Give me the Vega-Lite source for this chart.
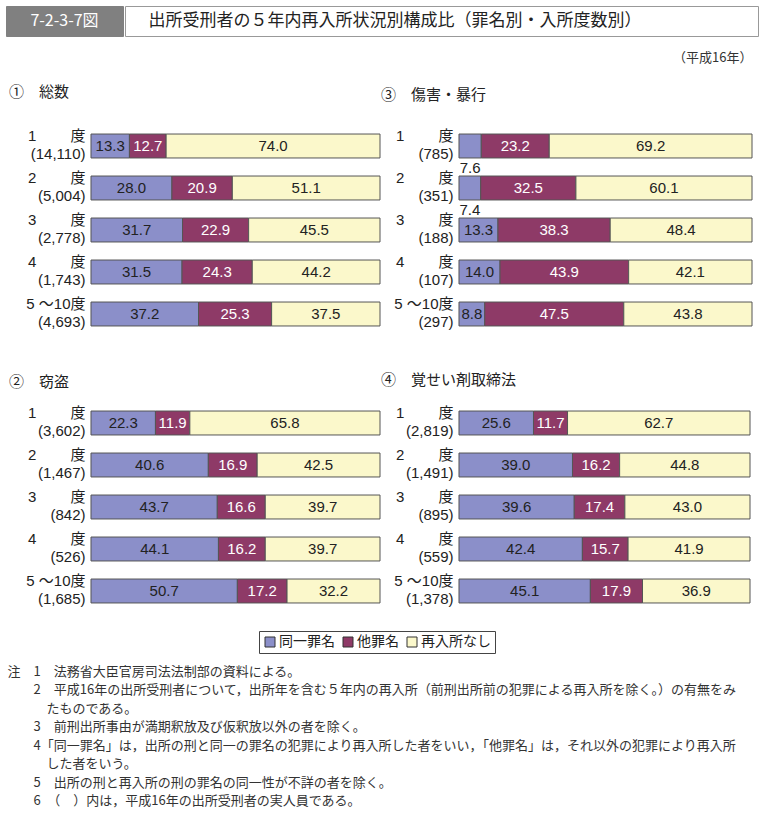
{
  "$schema": "https://vega.github.io/schema/vega-lite/v6.json",
  "padding": {"left": 5, "top": 5, "right": 4, "bottom": 0},
  "background": "white",
  "datasets": {
    "hdr1": [{"t": "7-2-3-7図"}],
    "hdr2": [{"t": "出所受刑者の５年内再入所状況別構成比（罪名別・入所度数別）"}],
    "rec": [
      {"panel": "総数", "row": "1　　 度|(14,110)", "category": "同一罪名", "value": 13.3},
      {"panel": "総数", "row": "1　　 度|(14,110)", "category": "他罪名", "value": 12.7},
      {"panel": "総数", "row": "1　　 度|(14,110)", "category": "再入所なし", "value": 74.0},
      {"panel": "総数", "row": "2　　 度|(5,004)", "category": "同一罪名", "value": 28.0},
      {"panel": "総数", "row": "2　　 度|(5,004)", "category": "他罪名", "value": 20.9},
      {"panel": "総数", "row": "2　　 度|(5,004)", "category": "再入所なし", "value": 51.1},
      {"panel": "総数", "row": "3　　 度|(2,778)", "category": "同一罪名", "value": 31.7},
      {"panel": "総数", "row": "3　　 度|(2,778)", "category": "他罪名", "value": 22.9},
      {"panel": "総数", "row": "3　　 度|(2,778)", "category": "再入所なし", "value": 45.5},
      {"panel": "総数", "row": "4　　 度|(1,743)", "category": "同一罪名", "value": 31.5},
      {"panel": "総数", "row": "4　　 度|(1,743)", "category": "他罪名", "value": 24.3},
      {"panel": "総数", "row": "4　　 度|(1,743)", "category": "再入所なし", "value": 44.2},
      {"panel": "総数", "row": "5 ～10度|(4,693)", "category": "同一罪名", "value": 37.2},
      {"panel": "総数", "row": "5 ～10度|(4,693)", "category": "他罪名", "value": 25.3},
      {"panel": "総数", "row": "5 ～10度|(4,693)", "category": "再入所なし", "value": 37.5},

      {"panel": "窃盗", "row": "1　　 度|(3,602)", "category": "同一罪名", "value": 22.3},
      {"panel": "窃盗", "row": "1　　 度|(3,602)", "category": "他罪名", "value": 11.9},
      {"panel": "窃盗", "row": "1　　 度|(3,602)", "category": "再入所なし", "value": 65.8},
      {"panel": "窃盗", "row": "2　　 度|(1,467)", "category": "同一罪名", "value": 40.6},
      {"panel": "窃盗", "row": "2　　 度|(1,467)", "category": "他罪名", "value": 16.9},
      {"panel": "窃盗", "row": "2　　 度|(1,467)", "category": "再入所なし", "value": 42.5},
      {"panel": "窃盗", "row": "3　　 度|(842)", "category": "同一罪名", "value": 43.7},
      {"panel": "窃盗", "row": "3　　 度|(842)", "category": "他罪名", "value": 16.6},
      {"panel": "窃盗", "row": "3　　 度|(842)", "category": "再入所なし", "value": 39.7},
      {"panel": "窃盗", "row": "4　　 度|(526)", "category": "同一罪名", "value": 44.1},
      {"panel": "窃盗", "row": "4　　 度|(526)", "category": "他罪名", "value": 16.2},
      {"panel": "窃盗", "row": "4　　 度|(526)", "category": "再入所なし", "value": 39.7},
      {"panel": "窃盗", "row": "5 ～10度|(1,685)", "category": "同一罪名", "value": 50.7},
      {"panel": "窃盗", "row": "5 ～10度|(1,685)", "category": "他罪名", "value": 17.2},
      {"panel": "窃盗", "row": "5 ～10度|(1,685)", "category": "再入所なし", "value": 32.2},

      {"panel": "傷害・暴行", "row": "1　　 度|(785)", "category": "同一罪名", "value": 7.6},
      {"panel": "傷害・暴行", "row": "1　　 度|(785)", "category": "他罪名", "value": 23.2},
      {"panel": "傷害・暴行", "row": "1　　 度|(785)", "category": "再入所なし", "value": 69.2},
      {"panel": "傷害・暴行", "row": "2　　 度|(351)", "category": "同一罪名", "value": 7.4},
      {"panel": "傷害・暴行", "row": "2　　 度|(351)", "category": "他罪名", "value": 32.5},
      {"panel": "傷害・暴行", "row": "2　　 度|(351)", "category": "再入所なし", "value": 60.1},
      {"panel": "傷害・暴行", "row": "3　　 度|(188)", "category": "同一罪名", "value": 13.3},
      {"panel": "傷害・暴行", "row": "3　　 度|(188)", "category": "他罪名", "value": 38.3},
      {"panel": "傷害・暴行", "row": "3　　 度|(188)", "category": "再入所なし", "value": 48.4},
      {"panel": "傷害・暴行", "row": "4　　 度|(107)", "category": "同一罪名", "value": 14.0},
      {"panel": "傷害・暴行", "row": "4　　 度|(107)", "category": "他罪名", "value": 43.9},
      {"panel": "傷害・暴行", "row": "4　　 度|(107)", "category": "再入所なし", "value": 42.1},
      {"panel": "傷害・暴行", "row": "5 ～10度|(297)", "category": "同一罪名", "value": 8.8},
      {"panel": "傷害・暴行", "row": "5 ～10度|(297)", "category": "他罪名", "value": 47.5},
      {"panel": "傷害・暴行", "row": "5 ～10度|(297)", "category": "再入所なし", "value": 43.8},

      {"panel": "覚せい剤取締法", "row": "1　　 度|(2,819)", "category": "同一罪名", "value": 25.6},
      {"panel": "覚せい剤取締法", "row": "1　　 度|(2,819)", "category": "他罪名", "value": 11.7},
      {"panel": "覚せい剤取締法", "row": "1　　 度|(2,819)", "category": "再入所なし", "value": 62.7},
      {"panel": "覚せい剤取締法", "row": "2　　 度|(1,491)", "category": "同一罪名", "value": 39.0},
      {"panel": "覚せい剤取締法", "row": "2　　 度|(1,491)", "category": "他罪名", "value": 16.2},
      {"panel": "覚せい剤取締法", "row": "2　　 度|(1,491)", "category": "再入所なし", "value": 44.8},
      {"panel": "覚せい剤取締法", "row": "3　　 度|(895)", "category": "同一罪名", "value": 39.6},
      {"panel": "覚せい剤取締法", "row": "3　　 度|(895)", "category": "他罪名", "value": 17.4},
      {"panel": "覚せい剤取締法", "row": "3　　 度|(895)", "category": "再入所なし", "value": 43.0},
      {"panel": "覚せい剤取締法", "row": "4　　 度|(559)", "category": "同一罪名", "value": 42.4},
      {"panel": "覚せい剤取締法", "row": "4　　 度|(559)", "category": "他罪名", "value": 15.7},
      {"panel": "覚せい剤取締法", "row": "4　　 度|(559)", "category": "再入所なし", "value": 41.9},
      {"panel": "覚せい剤取締法", "row": "5 ～10度|(1,378)", "category": "同一罪名", "value": 45.1},
      {"panel": "覚せい剤取締法", "row": "5 ～10度|(1,378)", "category": "他罪名", "value": 17.9},
      {"panel": "覚せい剤取締法", "row": "5 ～10度|(1,378)", "category": "再入所なし", "value": 36.9}
    ]
  },
  "title": {
    "text": [
      "注　1　法務省大臣官房司法法制部の資料による。",
      "\u200b　　2　平成16年の出所受刑者について，出所年を含む５年内の再入所（前刑出所前の犯罪による再入所を除く。）の有無をみ",
      "\u200b　　　たものである。",
      "\u200b　　3　前刑出所事由が満期釈放及び仮釈放以外の者を除く。",
      "\u200b　　4「同一罪名」は，出所の刑と同一の罪名の犯罪により再入所した者をいい，「他罪名」は，それ以外の犯罪により再入所",
      "\u200b　　　した者をいう。",
      "\u200b　　5　出所の刑と再入所の刑の罪名の同一性が不詳の者を除く。",
      "\u200b　　6　（　）内は，平成16年の出所受刑者の実人員である。"
    ],
    "orient": "bottom",
    "anchor": "start",
    "dx": 2,
    "offset": 12,
    "fontSize": 13,
    "lineHeight": 18.5,
    "font": "Noto Sans CJK JP",
    "fontWeight": "normal",
    "color": "#333333"
  },
  "spacing": 38,
  "vconcat": [
    {
      "spacing": 15,
      "vconcat": [
        {
          "spacing": 0,
          "hconcat": [
            {
              "width": 117, "height": 30,
              "view": {"fill": "#808080", "stroke": "#808080"},
              "data": {"name": "hdr1"},
              "mark": {"type": "text", "color": "white", "fontSize": 16, "font": "Liberation Sans Narrow, Noto Sans CJK JP"},
              "encoding": {"text": {"field": "t", "type": "nominal"}}
            },
            {
              "width": 633, "height": 30,
              "view": {"fill": "white", "stroke": "#999999"},
              "data": {"name": "hdr2"},
              "mark": {"type": "text", "align": "left", "dx": -293, "color": "#222222", "fontSize": 17, "font": "Noto Sans CJK JP"},
              "encoding": {"text": {"field": "t", "type": "nominal"}}
            }
          ]
        },
        {
          "title": {"text": "（平成16年）", "anchor": "end", "fontSize": 13, "fontWeight": "normal", "font": "Noto Sans CJK JP", "color": "#333333", "offset": 20},
          "spacing": 0,
          "hconcat": [
            {
              "width": 374, "height": 210,
              "title": {"text": "①　総数", "anchor": "start", "frame": "bounds", "dx": 3, "offset": 25, "fontSize": 15, "fontWeight": "normal", "font": "Noto Sans CJK JP", "color": "#222222"},
              "data": {"name": "rec"},
              "transform": [
                {"filter": "datum.panel === '総数'"},
                {"stack": "value", "groupby": ["row"], "offset": "normalize", "as": ["x0", "x1"]},
                {"calculate": "(datum.x0 + datum.x1) / 2", "as": "xm"}
              ],
              "encoding": {
                "y": {"field": "row", "type": "nominal", "sort": null, "scale": {"paddingInner": 0.43, "paddingOuter": 0.215},
                  "axis": {"title": null, "ticks": false, "domain": false, "offset": -85, "labelExpr": "split(datum.label, '|')", "labelFontSize": 15, "labelFont": "Liberation Sans, Noto Sans CJK JP", "labelColor": "#222222", "labelLineHeight": 18, "labelOffset": -10, "labelPadding": 6, "labelLimit": 0}}
              },
              "layer": [
                {
                  "mark": {"type": "bar", "stroke": "#555555", "strokeWidth": 1},
                  "encoding": {
                    "x": {"field": "x0", "type": "quantitative", "scale": {"domain": [-0.2941, 1], "nice": false, "zero": false}, "axis": null},
                    "x2": {"field": "x1"},
                    "color": {"field": "category", "type": "nominal",
                      "scale": {"domain": ["同一罪名", "他罪名", "再入所なし"], "range": ["#8b8fc9", "#8e3a67", "#fbf8cb"]},
                      "legend": {"title": null, "orient": "none", "legendX": 253, "legendY": 625, "direction": "horizontal", "symbolType": "square", "symbolSize": 100, "symbolStrokeColor": "#333333", "symbolStrokeWidth": 1, "labelFontSize": 14, "labelFont": "Noto Sans CJK JP", "labelColor": "#222222", "labelOffset": 2, "columnPadding": 6, "padding": 4, "strokeColor": "#444444", "fillColor": "white"}}
                  }
                },
                {
                  "transform": [{"filter": "datum.value >= 8"}],
                  "mark": {"type": "text", "fontSize": 15, "font": "Liberation Sans"},
                  "encoding": {
                    "x": {"field": "xm", "type": "quantitative"},
                    "text": {"field": "value", "type": "quantitative", "format": ".1f"},
                    "color": {"condition": {"test": "datum.category === '他罪名'", "value": "white"}, "value": "#222222"}
                  }
                }
              ]
            },
            {
              "width": 371, "height": 210,
              "title": {"text": "③　傷害・暴行", "anchor": "start", "frame": "bounds", "dy": 3, "offset": 25, "fontSize": 15, "fontWeight": "normal", "font": "Noto Sans CJK JP", "color": "#222222"},
              "data": {"name": "rec"},
              "transform": [
                {"filter": "datum.panel === '傷害・暴行'"},
                {"stack": "value", "groupby": ["row"], "offset": "normalize", "as": ["x0", "x1"]},
                {"calculate": "(datum.x0 + datum.x1) / 2", "as": "xm"}
              ],
              "encoding": {
                "y": {"field": "row", "type": "nominal", "sort": null, "scale": {"paddingInner": 0.43, "paddingOuter": 0.215},
                  "axis": {"title": null, "ticks": false, "domain": false, "offset": -78, "labelExpr": "split(datum.label, '|')", "labelFontSize": 15, "labelFont": "Liberation Sans, Noto Sans CJK JP", "labelColor": "#222222", "labelLineHeight": 18, "labelOffset": -10, "labelPadding": 6, "labelLimit": 0}}
              },
              "layer": [
                {
                  "mark": {"type": "bar", "stroke": "#555555", "strokeWidth": 1},
                  "encoding": {
                    "x": {"field": "x0", "type": "quantitative", "scale": {"domain": [-0.26621, 1], "nice": false, "zero": false}, "axis": null},
                    "x2": {"field": "x1"},
                    "color": {"field": "category", "type": "nominal",
                      "scale": {"domain": ["同一罪名", "他罪名", "再入所なし"], "range": ["#8b8fc9", "#8e3a67", "#fbf8cb"]},
                      "legend": {"title": null, "orient": "none", "legendX": 253, "legendY": 625, "direction": "horizontal", "symbolType": "square", "symbolSize": 100, "symbolStrokeColor": "#333333", "symbolStrokeWidth": 1, "labelFontSize": 14, "labelFont": "Noto Sans CJK JP", "labelColor": "#222222", "labelOffset": 2, "columnPadding": 6, "padding": 4, "strokeColor": "#444444", "fillColor": "white"}}
                  }
                },
                {
                  "transform": [{"filter": "datum.value >= 8"}],
                  "mark": {"type": "text", "fontSize": 15, "font": "Liberation Sans"},
                  "encoding": {
                    "x": {"field": "xm", "type": "quantitative"},
                    "text": {"field": "value", "type": "quantitative", "format": ".1f"},
                    "color": {"condition": {"test": "datum.category === '他罪名'", "value": "white"}, "value": "#222222"}
                  }
                },
                {
                  "transform": [{"filter": "datum.value < 8"}],
                  "mark": {"type": "text", "fontSize": 15, "font": "Liberation Sans", "dy": 22, "color": "#222222"},
                  "encoding": {
                    "x": {"field": "xm", "type": "quantitative"},
                    "text": {"field": "value", "type": "quantitative", "format": ".1f"}
                  }
                }
              ]
            }
          ]
        }
      ]
    },
    {
      "spacing": 0,
      "hconcat": [
        {
          "width": 374, "height": 210,
          "title": {"text": "②　窃盗", "anchor": "start", "frame": "bounds", "dx": 3, "offset": 12, "fontSize": 15, "fontWeight": "normal", "font": "Noto Sans CJK JP", "color": "#222222"},
          "data": {"name": "rec"},
          "transform": [
            {"filter": "datum.panel === '窃盗'"},
            {"stack": "value", "groupby": ["row"], "offset": "normalize", "as": ["x0", "x1"]},
            {"calculate": "(datum.x0 + datum.x1) / 2", "as": "xm"}
          ],
          "encoding": {
            "y": {"field": "row", "type": "nominal", "sort": null, "scale": {"paddingInner": 0.43, "paddingOuter": 0.215},
              "axis": {"title": null, "ticks": false, "domain": false, "offset": -85, "labelExpr": "split(datum.label, '|')", "labelFontSize": 15, "labelFont": "Liberation Sans, Noto Sans CJK JP", "labelColor": "#222222", "labelLineHeight": 18, "labelOffset": -10, "labelPadding": 6, "labelLimit": 0}}
          },
          "layer": [
            {
              "mark": {"type": "bar", "stroke": "#555555", "strokeWidth": 1},
              "encoding": {
                "x": {"field": "x0", "type": "quantitative", "scale": {"domain": [-0.2941, 1], "nice": false, "zero": false}, "axis": null},
                "x2": {"field": "x1"},
                "color": {"field": "category", "type": "nominal",
                  "scale": {"domain": ["同一罪名", "他罪名", "再入所なし"], "range": ["#8b8fc9", "#8e3a67", "#fbf8cb"]},
                  "legend": {"title": null, "orient": "none", "legendX": 253, "legendY": 625, "direction": "horizontal", "symbolType": "square", "symbolSize": 100, "symbolStrokeColor": "#333333", "symbolStrokeWidth": 1, "labelFontSize": 14, "labelFont": "Noto Sans CJK JP", "labelColor": "#222222", "labelOffset": 2, "columnPadding": 6, "padding": 4, "strokeColor": "#444444", "fillColor": "white"}}
              }
            },
            {
              "transform": [{"filter": "datum.value >= 8"}],
              "mark": {"type": "text", "fontSize": 15, "font": "Liberation Sans"},
              "encoding": {
                "x": {"field": "xm", "type": "quantitative"},
                "text": {"field": "value", "type": "quantitative", "format": ".1f"},
                "color": {"condition": {"test": "datum.category === '他罪名'", "value": "white"}, "value": "#222222"}
              }
            }
          ]
        },
        {
          "width": 369, "height": 210,
          "title": {"text": "④　覚せい剤取締法", "anchor": "start", "frame": "bounds", "dy": -2, "offset": 12, "fontSize": 15, "fontWeight": "normal", "font": "Noto Sans CJK JP", "color": "#222222"},
          "data": {"name": "rec"},
          "transform": [
            {"filter": "datum.panel === '覚せい剤取締法'"},
            {"stack": "value", "groupby": ["row"], "offset": "normalize", "as": ["x0", "x1"]},
            {"calculate": "(datum.x0 + datum.x1) / 2", "as": "xm"}
          ],
          "encoding": {
            "y": {"field": "row", "type": "nominal", "sort": null, "scale": {"paddingInner": 0.43, "paddingOuter": 0.215},
              "axis": {"title": null, "ticks": false, "domain": false, "offset": -78, "labelExpr": "split(datum.label, '|')", "labelFontSize": 15, "labelFont": "Liberation Sans, Noto Sans CJK JP", "labelColor": "#222222", "labelLineHeight": 18, "labelOffset": -10, "labelPadding": 6, "labelLimit": 0}}
          },
          "layer": [
            {
              "mark": {"type": "bar", "stroke": "#555555", "strokeWidth": 1},
              "encoding": {
                "x": {"field": "x0", "type": "quantitative", "scale": {"domain": [-0.26804, 1], "nice": false, "zero": false}, "axis": null},
                "x2": {"field": "x1"},
                "color": {"field": "category", "type": "nominal",
                  "scale": {"domain": ["同一罪名", "他罪名", "再入所なし"], "range": ["#8b8fc9", "#8e3a67", "#fbf8cb"]},
                  "legend": {"title": null, "orient": "none", "legendX": 253, "legendY": 625, "direction": "horizontal", "symbolType": "square", "symbolSize": 100, "symbolStrokeColor": "#333333", "symbolStrokeWidth": 1, "labelFontSize": 14, "labelFont": "Noto Sans CJK JP", "labelColor": "#222222", "labelOffset": 2, "columnPadding": 6, "padding": 4, "strokeColor": "#444444", "fillColor": "white"}}
              }
            },
            {
              "transform": [{"filter": "datum.value >= 8"}],
              "mark": {"type": "text", "fontSize": 15, "font": "Liberation Sans"},
              "encoding": {
                "x": {"field": "xm", "type": "quantitative"},
                "text": {"field": "value", "type": "quantitative", "format": ".1f"},
                "color": {"condition": {"test": "datum.category === '他罪名'", "value": "white"}, "value": "#222222"}
              }
            }
          ]
        }
      ]
    }
  ],
  "config": {
    "view": {"stroke": null},
    "font": "Noto Sans CJK JP"
  }
}
